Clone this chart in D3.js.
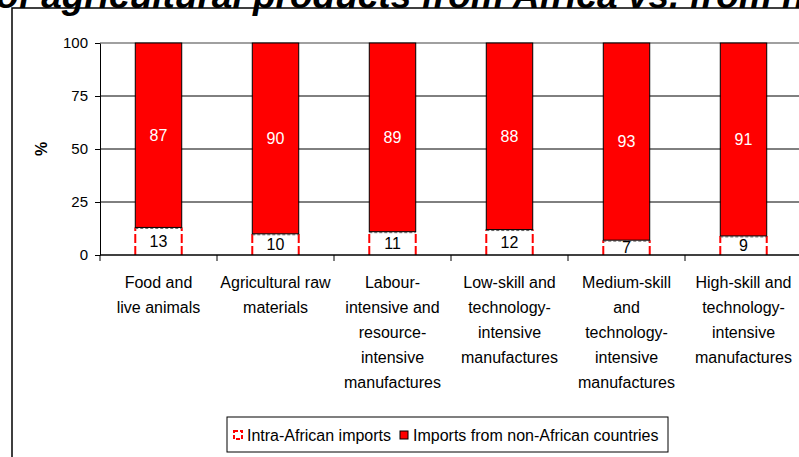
<!DOCTYPE html>
<html><head><meta charset="utf-8">
<script src="https://cdn.jsdelivr.net/npm/d3@7"></script>
<style>body{margin:0;background:#fff;overflow:hidden}svg{display:block}text{font-family:"Liberation Sans",Arial,sans-serif}</style>
</head><body>
<svg id="c" width="799" height="457"></svg>
<script>
const categories = [
  ["Food and","live animals"],
  ["Agricultural raw","materials"],
  ["Labour-","intensive and","resource-","intensive","manufactures"],
  ["Low-skill and","technology-","intensive","manufactures"],
  ["Medium-skill","and","technology-","intensive","manufactures"],
  ["High-skill and","technology-","intensive","manufactures"]
];
const intraAfrican = [13, 10, 11, 12, 7, 9];
const nonAfrican = [87, 90, 89, 88, 93, 91];
const yTicks = [0, 25, 50, 75, 100];
const seriesNames = ["Intra-African imports", "Imports from non-African countries"];
const titleText = "Imports of agricultural products from Africa vs. from non-African countries";

const svg = d3.select("#c");
const W = 799, H = 457;
const m = {left: 100, top: 43, bottom: 255, right: 802};

// title (clipped at top, as in the reference)
const title = svg.append("text").attr("y", 8)
  .attr("font-size", 37).attr("font-weight", "bold").attr("font-style", "italic").attr("fill", "#000")
  .text(titleText);
const off = title.node().getSubStringLength(0, 8);
title.attr("x", -4 - off);

// frame
svg.append("rect").attr("x", 12).attr("y", 8).attr("width", W + 20).attr("height", H + 20)
  .attr("fill", "none").attr("stroke", "#000").attr("stroke-width", 1.5);

const keys = categories.map((c, i) => i);
const x = d3.scaleBand().domain(keys).range([m.left, m.right]).paddingInner(0.603).paddingOuter(0.3015);
const y = d3.scaleLinear().domain([0, 100]).range([m.bottom, m.top]);

// gridlines
svg.append("g").selectAll("line").data(yTicks.filter(t => t > 0)).join("line")
  .attr("x1", m.left).attr("x2", W).attr("y1", d => y(d)).attr("y2", d => y(d))
  .attr("stroke", d => d === 100 ? "#808080" : "#000").attr("stroke-width", d => d === 100 ? 1.5 : 1);

// intra-African segments: white fill, red dashed sides, grey dashed top
const ig = svg.append("g").selectAll("g").data(keys).join("g");
ig.append("rect")
  .attr("x", i => x(i)).attr("width", x.bandwidth())
  .attr("y", i => y(intraAfrican[i])).attr("height", i => y(0) - y(intraAfrican[i]))
  .attr("fill", "#fff");
[0, 1].forEach(side => {
  ig.append("line")
    .attr("x1", i => x(i) + side * x.bandwidth()).attr("x2", i => x(i) + side * x.bandwidth())
    .attr("y1", y(0)).attr("y2", i => y(intraAfrican[i]))
    .attr("stroke", "#ff0000").attr("stroke-width", 2).attr("stroke-dasharray", "9,3");
});
ig.append("line")
  .attr("x1", i => x(i)).attr("x2", i => x(i) + x.bandwidth())
  .attr("y1", i => y(intraAfrican[i]) + 1).attr("y2", i => y(intraAfrican[i]) + 1)
  .attr("stroke", "#666").attr("stroke-width", 1).attr("stroke-dasharray", "3,2");

// non-African segments
svg.append("g").selectAll("rect").data(keys).join("rect")
  .attr("x", i => x(i)).attr("width", x.bandwidth())
  .attr("y", i => y(intraAfrican[i] + nonAfrican[i]))
  .attr("height", i => y(intraAfrican[i]) - y(intraAfrican[i] + nonAfrican[i]))
  .attr("fill", "#ff0000").attr("stroke", "#000").attr("stroke-width", 1);

// value labels
svg.append("g").selectAll("text").data(keys).join("text")
  .attr("x", i => x(i) + x.bandwidth() / 2)
  .attr("y", i => y(intraAfrican[i] + nonAfrican[i] / 2))
  .attr("dy", "0.35em").attr("text-anchor", "middle").attr("font-size", 16).attr("fill", "#fff")
  .text(i => nonAfrican[i]);
svg.append("g").selectAll("text").data(keys).join("text")
  .attr("x", i => x(i) + x.bandwidth() / 2)
  .attr("y", i => y(intraAfrican[i] / 2))
  .attr("dy", "0.35em").attr("text-anchor", "middle").attr("font-size", 16).attr("fill", "#000")
  .text(i => intraAfrican[i]);

// y axis
const ya = svg.append("g").attr("transform", `translate(${m.left},0)`)
  .call(d3.axisLeft(y).tickValues(yTicks).tickSize(5).tickSizeOuter(0).tickPadding(7));
ya.select(".domain").attr("stroke", "#000");
ya.selectAll("line").attr("stroke", "#000");
ya.selectAll("text").attr("font-size", 15).attr("fill", "#000").attr("font-family", "Liberation Sans, Arial, sans-serif");

// x axis
svg.append("line").attr("x1", m.left).attr("x2", W).attr("y1", y(0)).attr("y2", y(0)).attr("stroke", "#000").attr("stroke-width", 1.5);
const bounds = keys.map(i => x(i) - (x.step() - x.bandwidth()) / 2);
svg.append("g").selectAll("line").data(bounds).join("line")
  .attr("x1", d => d).attr("x2", d => d).attr("y1", y(0)).attr("y2", y(0) + 6).attr("stroke", "#000");

// category labels
const cl = svg.append("g").selectAll("text").data(keys).join("text")
  .attr("text-anchor", "middle").attr("font-size", 16).attr("fill", "#000");
cl.each(function(i) {
  const t = d3.select(this);
  categories[i].forEach((line, k) => {
    t.append("tspan").attr("x", x(i) + x.bandwidth() / 2).attr("y", 288 + k * 25).text(line);
  });
});

// y label
svg.append("text").attr("transform", "translate(47,149) rotate(-90)")
  .attr("text-anchor", "middle").attr("font-size", 16).attr("font-weight", "bold").text("%");

// legend
const lg = svg.append("g");
lg.append("rect").attr("x", 227).attr("y", 417).attr("width", 441).attr("height", 35)
  .attr("fill", "#fff").attr("stroke", "#000").attr("stroke-width", 1);
lg.append("rect").attr("x", 234).attr("y", 431).attr("width", 8).attr("height", 8)
  .attr("fill", "#fff").attr("stroke", "#ff0000").attr("stroke-width", 2).attr("stroke-dasharray", "4,2");
lg.append("text").attr("x", 247).attr("y", 441).attr("font-size", 16).text(seriesNames[0]);
lg.append("rect").attr("x", 400).attr("y", 431).attr("width", 8).attr("height", 8)
  .attr("fill", "#ff0000").attr("stroke", "#000").attr("stroke-width", 1);
lg.append("text").attr("x", 413).attr("y", 441).attr("font-size", 16).text(seriesNames[1]);
</script>
</body></html>
